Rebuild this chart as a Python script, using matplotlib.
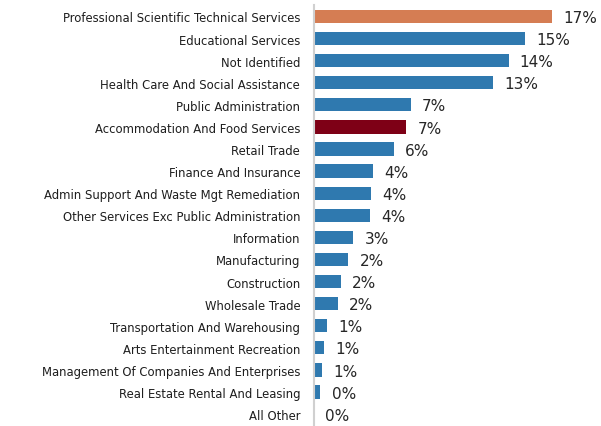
import matplotlib
matplotlib.use("Agg")
import matplotlib.pyplot as plt

plt.rcParams['font.family'] = ['DejaVu Sans']

industries = [
    "Professional Scientific Technical Services",
    "Educational Services",
    "Not Identified",
    "Health Care And Social Assistance",
    "Public Administration",
    "Accommodation And Food Services",
    "Retail Trade",
    "Finance And Insurance",
    "Admin Support And Waste Mgt Remediation",
    "Other Services Exc Public Administration",
    "Information",
    "Manufacturing",
    "Construction",
    "Wholesale Trade",
    "Transportation And Warehousing",
    "Arts Entertainment Recreation",
    "Management Of Companies And Enterprises",
    "Real Estate Rental And Leasing",
    "All Other",
]
shares = [17.0, 15.1, 13.9, 12.8, 6.9, 6.6, 5.7, 4.2, 4.1, 4.0,
          2.8, 2.45, 1.9, 1.7, 0.9, 0.7, 0.6, 0.45, 0.0]

blue = "#2F79AF"
colors = [blue] * len(industries)
colors[0] = "#D57D53"
colors[5] = "#7E0016"

fig = plt.figure(figsize=(6.01, 4.27), dpi=100)
ax = fig.add_axes([0.5225, 0.002, 0.4775, 0.983])

ypos = list(range(len(industries)))
ax.barh(ypos, shares, height=0.6, color=colors)
ax.set_ylim(len(industries) - 0.5, -0.5)
ax.set_xlim(0, 20.5)

# percentage labels just past each bar end
for y, v in zip(ypos, shares):
    ax.text(v + 0.8, y + 0.05, f"{v:.0f}%", va="center", ha="left",
            fontsize=11, color="#262626")

ax.set_yticks(ypos)
ax.set_yticklabels(industries, fontsize=8.4, color="#1e1e1e")
ax.tick_params(axis="y", length=0, pad=10)
ax.set_xticks([])
for s in ["top", "right", "bottom"]:
    ax.spines[s].set_visible(False)
ax.spines["left"].set_color("#D0D0D0")
ax.spines["left"].set_linewidth(1.5)

fig.savefig("out.png", dpi=100)
